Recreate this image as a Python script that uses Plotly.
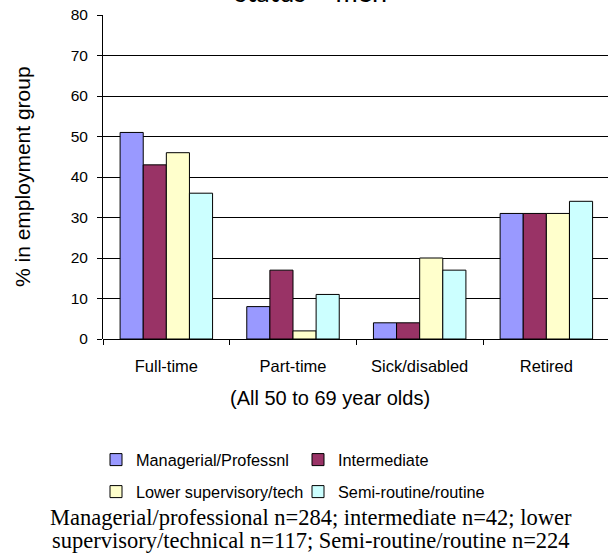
import plotly.graph_objects as go

categories = ["Full-time", "Part-time", "Sick/disabled", "Retired"]
series_names = ["Managerial/Professnl", "Intermediate", "Lower supervisory/tech", "Semi-routine/routine"]
managerial = [51, 8, 4, 31]
intermediate = [43, 17, 4, 31]
lower_sup = [46, 2, 20, 31]
semi_routine = [36, 11, 17, 34]
series_values = [managerial, intermediate, lower_sup, semi_routine]
colors = ["#9999FF", "#993366", "#FFFFCC", "#CCFFFF"]
legend_ids = ["legend", "legend", "legend2", "legend2"]
y_ticks = [0, 10, 20, 30, 40, 50, 60, 70, 80]

W, H = 608, 553
L, T, B = 103, 15, 214
plot_w = W - L
plot_h = H - T - B
px_per_cat = 126.67

def px_to_x(px):
    return (px - L) / plot_w

def py_to_y(py):
    return (H - B - py) / plot_h

fig = go.Figure()
for name, vals, col, lg in zip(series_names, series_values, colors, legend_ids):
    fig.add_trace(go.Bar(
        x=categories, y=vals, name=name, legend=lg,
        marker=dict(color=col, line=dict(color="#000000", width=1)),
    ))

sans = "Liberation Sans, Arial, sans-serif"
fig.update_layout(
    width=W, height=H,
    margin=dict(l=L, r=0, t=T, b=B, pad=0),
    paper_bgcolor="white", plot_bgcolor="white",
    barmode="group", bargap=0.27, bargroupgap=0,
    font=dict(family=sans, size=15.5, color="#000000"),
    xaxis=dict(
        range=[-0.5, -0.5 + plot_w / px_per_cat],
        showline=False, ticks="outside", tickson="boundaries", ticklen=5,
        tickcolor="#000000", tickfont=dict(size=16.5), ticklabelstandoff=15,
        showgrid=False,
    ),
    yaxis=dict(
        range=[0, 80], tickvals=y_ticks, showline=True, linecolor="#000000", linewidth=1,
        ticks="outside", ticklen=5, tickcolor="#000000", tickfont=dict(size=15.5),
        showgrid=True, gridcolor="#000000", gridwidth=1,
        zeroline=True, zerolinecolor="#000000", zerolinewidth=1,
        ticklabelstandoff=6,
    ),
    legend=dict(orientation="h", x=px_to_x(96), xanchor="left", y=py_to_y(460), yanchor="middle",
                bgcolor="rgba(0,0,0,0)", font=dict(size=16.3), entrywidth=157, itemclick=False),
    legend2=dict(orientation="h", x=px_to_x(96), xanchor="left", y=py_to_y(492), yanchor="middle",
                 bgcolor="rgba(0,0,0,0)", font=dict(size=16.3), entrywidth=157, itemclick=False),
    showlegend=True,
)

annots = [
    dict(text="status – men", x=px_to_x(311), y=py_to_y(9.5), xanchor="center", yanchor="bottom",
         font=dict(family="Lato, Open Sans, sans-serif", size=27)),
    dict(text="% in employment group", x=px_to_x(22), y=py_to_y(177), textangle=-90,
         xanchor="center", yanchor="middle", font=dict(size=21)),
    dict(text="(All 50 to 69 year olds)", x=px_to_x(330), y=py_to_y(398),
         xanchor="center", yanchor="middle", font=dict(size=20)),
    dict(text="Managerial/professional n=284; intermediate n=42; lower", x=px_to_x(311), y=py_to_y(517),
         xanchor="center", yanchor="middle", font=dict(family="Liberation Serif, serif", size=22.5)),
    dict(text="supervisory/technical n=117; Semi-routine/routine n=224", x=px_to_x(311), y=py_to_y(540),
         xanchor="center", yanchor="middle", font=dict(family="Liberation Serif, serif", size=22.5)),
]
for a in annots:
    a.update(xref="paper", yref="paper", showarrow=False)
    fig.add_annotation(**a)

fig.write_html("out.html", config={"displayModeBar": False},
               post_script="document.body.style.margin='0px';")
